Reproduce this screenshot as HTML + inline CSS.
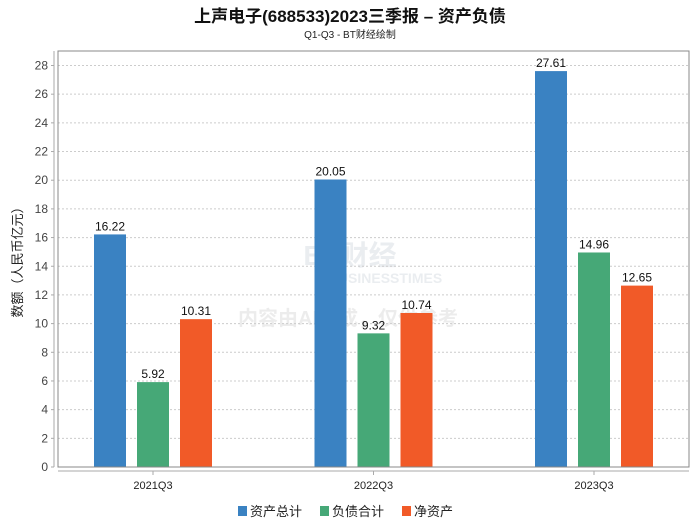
<!DOCTYPE html>
<html><head><meta charset="utf-8"><style>
body{margin:0;background:#fff;font-family:"Liberation Sans","Noto Sans CJK SC",sans-serif;}
svg text{font-family:"Liberation Sans","Noto Sans CJK SC",sans-serif;}
</style></head><body>
<svg id="chart" width="700" height="524" xmlns="http://www.w3.org/2000/svg">
<text x="350" y="22" text-anchor="middle" font-size="17" font-weight="bold" fill="#111">上声电子(688533)2023三季报 – 资产负债</text>
<text x="350" y="38" text-anchor="middle" font-size="10" fill="#222">Q1-Q3 - BT财经绘制</text>
<text x="22" y="259" text-anchor="middle" font-size="13" fill="#222" transform="rotate(-90 22 259)">数额（人民币亿元）</text>
<g id="wm" opacity="0.15">
<text x="350" y="265" text-anchor="middle" font-size="28" font-weight="bold" fill="#7a8aa0">BT财经</text>
<text x="385" y="283" text-anchor="middle" font-size="14" font-weight="bold" fill="#7a8aa0">BUSINESSTIMES</text>
<text x="348" y="325" text-anchor="middle" font-size="20" font-weight="bold" fill="#888">内容由AI生成，仅供参考</text>
</g>
<g id="grid"></g><g id="bars"></g><g id="axes"></g>
<g>
<rect x="238" y="506" width="9" height="10" fill="#3a82c2"/><text x="250" y="516" font-size="13" fill="#222">资产总计</text>
<rect x="320" y="506" width="9" height="10" fill="#46a877"/><text x="332" y="516" font-size="13" fill="#222">负债合计</text>
<rect x="402" y="506" width="9" height="10" fill="#f15a28"/><text x="414" y="516" font-size="13" fill="#222">净资产</text>
</g>
</svg>
<script>
const categories=["2021Q3","2022Q3","2023Q3"];
const seriesNames=["资产总计","负债合计","净资产"];
const totalAssets=[16.22,20.05,27.61];
const totalLiabilities=[5.92,9.32,14.96];
const netAssets=[10.31,10.74,12.65];
const yTicks=[0,2,4,6,8,10,12,14,16,18,20,22,24,26,28];
const colors=["#3a82c2","#46a877","#f15a28"];
const NS="http://www.w3.org/2000/svg";
const L=58,R=689,T=51,B=467,ymax=28;
const y=v=>B-(v/ymax)*(B-65.5);
const gw=220.5;
const xc=i=>153+gw*i;
function mk(t,a,p){const e=document.createElementNS(NS,t);for(const k in a)e.setAttribute(k,a[k]);p.appendChild(e);return e;}
const grid=document.getElementById('grid'),bars=document.getElementById('bars'),axes=document.getElementById('axes');
yTicks.forEach(v=>{
  if(v>0){const g=mk('line',{x1:L,x2:R,y1:y(v),y2:y(v),stroke:'#ccc','stroke-dasharray':'2,2'},grid);
  
  }
  const t=mk('text',{x:48,y:y(v)+4,'text-anchor':'end','font-size':12,fill:'#444'},axes);t.textContent=v;
  
  
  mk('line',{x1:51,x2:54,y1:y(v),y2:y(v),stroke:'#aaa'},axes);
});
mk('rect',{x:L,y:T,width:R-L,height:B-T,fill:'none',stroke:'#888'},axes);
mk('line',{x1:54,x2:54,y1:T,y2:B,stroke:'#aaa'},axes);
mk('line',{x1:L,x2:R,y1:471,y2:471,stroke:'#aaa'},axes);
const series=[totalAssets,totalLiabilities,netAssets];
categories.forEach((c,i)=>{
  mk('line',{x1:xc(i),x2:xc(i),y1:471,y2:475,stroke:'#aaa'},axes);
  const t=mk('text',{x:xc(i),y:489,'text-anchor':'middle','font-size':11,fill:'#222'},axes);t.textContent=c;
  
  
  series.forEach((s,j)=>{
    const cx=xc(i)+(j-1)*43;
    const r=mk('rect',{x:cx-16,y:y(s[i]),width:32,height:B-y(s[i]),fill:colors[j]},bars);
    
    
    const l=mk('text',{x:cx,y:y(s[i])-4,'text-anchor':'middle','font-size':12,fill:'#111'},bars);l.textContent=s[i].toFixed(2);
    
    
  });
});
</script>
</body></html>
